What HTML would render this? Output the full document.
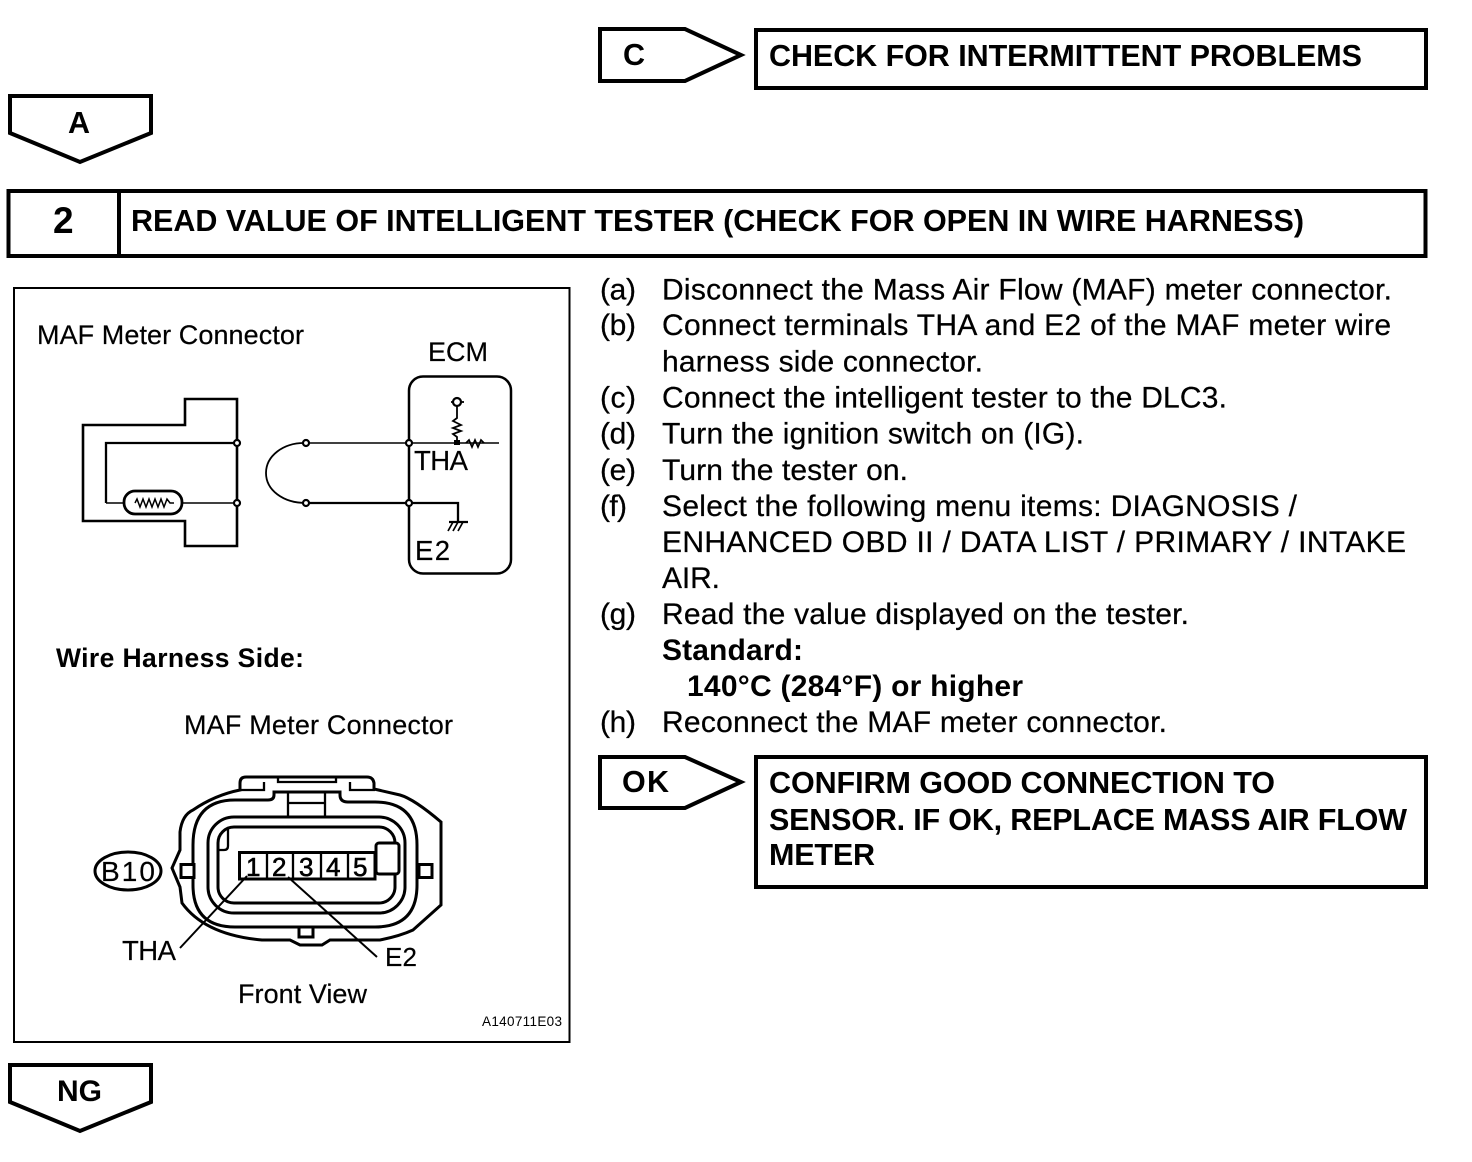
<!DOCTYPE html>
<html><head><meta charset="utf-8"><style>
html,body{margin:0;padding:0;background:#fff}
svg{display:block}
text{font-family:"Liberation Sans",sans-serif;fill:#000}
.b{font-size:30px;stroke:#000;stroke-width:.25px}
.h{font-size:30.500px;font-weight:bold}
.s{font-size:27px;stroke:#000;stroke-width:.2px}
</style></head><body>
<svg width="1472" height="1162" viewBox="0 0 1472 1162" xmlns="http://www.w3.org/2000/svg">
<rect width="1472" height="1162" fill="#fff"/>
<g fill="none" stroke="#000" stroke-width="4">
<path d="M600 29H685L741 55L685 81H600Z"/>
<rect x="756" y="30" width="670" height="58"/>
<path d="M10 96H151V133L80 162L10 133Z"/>
<rect x="8.500" y="191" width="1417" height="65"/>
<path d="M119 191V256"/>
<path d="M600 757H685L741 782L685 808H600Z"/>
<rect x="756" y="757" width="670" height="130"/>
<path d="M10 1065H151V1102L80 1131L10 1102Z"/>
</g>
<rect x="14" y="288" width="555.500" height="754" fill="none" stroke="#000" stroke-width="2"/>
<text class="h" x="623" y="65" textLength="22">C</text>
<text class="h" x="769" y="66" textLength="593">CHECK FOR INTERMITTENT PROBLEMS</text>
<text class="h" x="68" y="133" textLength="24">A</text>
<text class="h" x="53" y="233" textLength="22" style="font-size:37px">2</text>
<text class="h" x="131" y="231" textLength="1173">READ VALUE OF INTELLIGENT TESTER (CHECK FOR OPEN IN WIRE HARNESS)</text>
<text class="h" x="622" y="792" textLength="47">OK</text>
<text class="h" x="769" y="793" textLength="506">CONFIRM GOOD CONNECTION TO</text>
<text class="h" x="769" y="830" textLength="638">SENSOR. IF OK, REPLACE MASS AIR FLOW</text>
<text class="h" x="769" y="865" textLength="106">METER</text>
<text class="h" x="57" y="1101" textLength="45" style="font-size:30px">NG</text>

<g class="b">
<text x="600" y="299.500" textLength="36">(a)</text><text x="662" y="299.500" textLength="730">Disconnect the Mass Air Flow (MAF) meter connector.</text>
<text x="600" y="335" textLength="36">(b)</text><text x="662" y="335" textLength="729">Connect terminals THA and E2 of the MAF meter wire</text>
<text x="662" y="371.500" textLength="321">harness side connector.</text>
<text x="600" y="407.500" textLength="36">(c)</text><text x="662" y="407.500" textLength="565">Connect the intelligent tester to the DLC3.</text>
<text x="600" y="443.500" textLength="36">(d)</text><text x="662" y="443.500" textLength="422">Turn the ignition switch on (IG).</text>
<text x="600" y="480" textLength="36">(e)</text><text x="662" y="480" textLength="246">Turn the tester on.</text>
<text x="600" y="516" textLength="27">(f)</text><text x="662" y="516" textLength="635">Select the following menu items: DIAGNOSIS /</text>
<text x="662" y="552" textLength="744">ENHANCED OBD II / DATA LIST / PRIMARY / INTAKE</text>
<text x="662" y="588" textLength="58">AIR.</text>
<text x="600" y="624" textLength="36">(g)</text><text x="662" y="624" textLength="527">Read the value displayed on the tester.</text>
<text x="600" y="732" textLength="36">(h)</text><text x="662" y="732" textLength="505">Reconnect the MAF meter connector.</text>
</g>
<text x="662" y="660" textLength="141" style="font-size:30px;font-weight:bold">Standard:</text>
<text x="687" y="696" textLength="336" style="font-size:30px;font-weight:bold">140°C (284°F) or higher</text>

<g class="s">
<text x="37" y="344" textLength="267">MAF Meter Connector</text>
<text x="428" y="361" textLength="60">ECM</text>
<text x="414" y="470" textLength="54" style="font-size:27.500px">THA</text>
<text x="415" y="560" textLength="35" style="font-size:27.500px">E2</text>
<text x="184" y="734" textLength="269">MAF Meter Connector</text>
<text x="122" y="960" textLength="54" style="font-size:27.500px">THA</text>
<text x="385" y="966" textLength="32" style="font-size:26px">E2</text>
<text x="238" y="1003" textLength="129">Front View</text>
<text x="101" y="881" textLength="54" style="font-size:28px">B10</text>
</g>
<text x="56" y="667" textLength="248" style="font-size:26.500px;font-weight:bold">Wire Harness Side:</text>
<text x="482" y="1026" textLength="80" style="font-size:13.500px">A140711E03</text>

<!-- schematic -->
<g fill="none" stroke="#000">
<path d="M185 399H237V546H185V521H83V425H185Z" stroke-width="2.600"/>
<path d="M237 443H106V503" stroke-width="2.300"/>
<path d="M106 503H237" stroke-width="1.400"/>
<rect x="124" y="491" width="58" height="23" rx="11" stroke-width="2.800" fill="#fff"/>
<path d="M135 503L137 499L140 507L143 499L146 507L149 499L152 507L155 499L158 507L161 499L164 507L167 499L170 503H174" stroke-width="1.500"/>
<rect x="409" y="376.500" width="102" height="197" rx="14" stroke-width="2.500"/>
<path d="M306 443H499" stroke-width="1.400"/>
<path d="M306 443H304C283 443 266 456 266 473C266 490 283 503 306 503" stroke-width="1.800"/>
<path d="M306 503H458V522" stroke-width="2.300"/>
<path d="M449 522H468" stroke-width="2.300"/>
<path d="M453 522L448 531M458 522L453 531M463 522L458 531" stroke-width="1.700"/>
<path d="M457 406V418L453 421L461 425L453 428L461 431L453 434L457 437V443" stroke-width="1.800"/>
<path d="M451 402H464" stroke-width="1.800"/>
<circle cx="457" cy="402" r="4" fill="#fff" stroke-width="2.200"/>
<path d="M466 443L469 440L472 447L475 440L478 447L481 440L484 443" stroke-width="1.700"/>
</g>
<rect x="454" y="440" width="6" height="5"/>
<g fill="#fff" stroke="#000" stroke-width="2.200">
<circle cx="237" cy="443" r="3"/><circle cx="237" cy="503" r="3"/>
<circle cx="306" cy="443" r="3"/><circle cx="306" cy="503" r="3"/>
<circle cx="409" cy="443" r="3"/><circle cx="409" cy="503" r="3"/>
</g>

<!-- connector -->
<g fill="none" stroke="#000" stroke-width="3">
<path d="M240 790V783Q240 777 246 777H367Q373 777 374 783V789L400 795Q414 799 441 822V905L413 930Q400 936 380 940H330L322 945H300L290 940H262Q205 935 182 903L180 887L172 868L180 850V832Q182 815 193 810Q215 795 240 790Z"/>
<path d="M240 790H264V782M278 777V782H336V777M350 782V790H375" stroke-width="2.300"/>
<path d="M193 845Q193 800 235 800H268Q274 800 274 795V792H340V795Q340 802 348 802H375Q417 802 417 845V885Q417 927 375 927H235Q193 927 193 885Z"/>
<rect x="208" y="817" width="197" height="96" rx="26"/>
<rect x="218" y="827" width="177" height="76" rx="16"/>
<path d="M288 792V816M325 792V816M288 803H325" stroke-width="2.300"/>
<path d="M228 828V846Q228 850 224 850H218" stroke-width="2.300"/>
<rect x="239.500" y="852.500" width="135.500" height="26.500" fill="#fff"/>
<path d="M267 852V879M293 852V879M321 852V879M348 852V879" stroke-width="2.300"/>
<rect x="376" y="843" width="23" height="31" rx="3" fill="#fff"/>
<rect x="181" y="864.500" width="13" height="13" fill="#fff"/>
<rect x="419" y="864.500" width="13" height="13" fill="#fff"/>
<path d="M299 927V937H313V927" stroke-width="3"/>
<ellipse cx="128" cy="871" rx="33" ry="19"/>
<path d="M247 876L180 948M288 877L377 957" stroke-width="2"/>
</g>
<g style="font-size:26px">
<text x="246" y="876" textLength="14" stroke="#000" stroke-width=".6">1</text>
<text x="272" y="876" textLength="15" stroke="#000" stroke-width=".6">2</text>
<text x="299" y="876" textLength="15" stroke="#000" stroke-width=".6">3</text>
<text x="326" y="876" textLength="15" stroke="#000" stroke-width=".6">4</text>
<text x="353" y="876" textLength="15" stroke="#000" stroke-width=".6">5</text>
</g>
</svg>
</body></html>
